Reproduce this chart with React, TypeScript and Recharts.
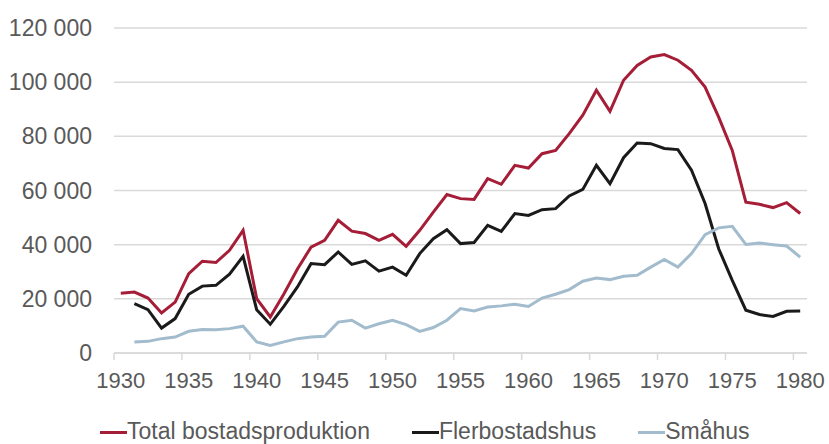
import { CartesianGrid, Legend, Line, LineChart, XAxis, YAxis } from "recharts";

const years = Array.from({ length: 51 }, (_, i) => 1930 + i);

// Total bostadsproduktion (1930-1980)
const total = [
  22100, 22500, 20300, 14800, 18800, 29300, 33900, 33400, 37900, 45300,
  20100, 13300, 21800, 31000, 39100, 41600, 49000, 45000, 44100, 41600,
  43800, 39400, 45300, 52000, 58500, 57000, 56700, 64400, 62300, 69300,
  68300, 73600, 74800, 81000, 87800, 97000, 89200, 100700, 106200, 109300,
  110200, 108100, 104400, 98200, 87100, 74800, 55700, 54900, 53700, 55500,
  51500,
];

// Flerbostadshus (from 1931)
const fler = [
  null, 18200, 16000, 9200, 12700, 21700, 24700, 25000, 29100, 35700,
  16000, 10600, 17200, 24400, 33000, 32600, 37300, 32700, 34000, 30200,
  31700, 28700, 36700, 42200, 45500, 40400, 40800, 47100, 44900, 51500,
  50800, 52900, 53300, 58000, 60400, 69300, 62500, 72100, 77500, 77300,
  75500, 75100, 67500, 55200, 38500, 26800, 15800, 14200, 13500, 15400,
  15500,
];

// Småhus (from 1931)
const smahus = [
  null, 4100, 4300, 5300, 5900, 8000, 8700, 8600, 9000, 9900,
  4100, 2800, 4100, 5300, 5900, 6200, 11400, 12100, 9200, 10800,
  12100, 10500, 8000, 9400, 12100, 16400, 15500, 17000, 17400, 18000,
  17200, 20300, 21700, 23400, 26500, 27700, 27100, 28300, 28700, 31700,
  34500, 31700, 36700, 43700, 46200, 46800, 40100, 40600, 40000, 39500,
  35400,
];

const yearTicks = [1930, 1935, 1940, 1945, 1950, 1955, 1960, 1965, 1970, 1975, 1980];
const valueTicks = [0, 20000, 40000, 60000, 80000, 100000, 120000];

const series = [
  { key: "total", name: "Total bostadsproduktion", color: "#a51d36" },
  { key: "fler", name: "Flerbostadshus", color: "#1a1a1a" },
  { key: "smahus", name: "Småhus", color: "#a3bccd" },
];

const data = years.map((year, i) => ({
  year,
  total: total[i],
  fler: fler[i],
  smahus: smahus[i],
}));

const W = 829;
const H = 444;
const Y_W = 114;
const RIGHT = 22;
const HALF_BAND = (W - Y_W - RIGHT) / years.length / 2;
const TICK_MARGIN = 19;
const TEXT = "#595959";
const GRID = "#d9d9d9";
const FONT = "'Liberation Sans', Arial, sans-serif";

const fmt = (v: number) => String(v).replace(/\B(?=(\d{3})+(?!\d))/g, " ");

function YearTick(props: any) {
  const { x, y, payload } = props;
  const axisY = y - TICK_MARGIN;
  return (
    <g>
      <line x1={x - HALF_BAND} x2={x - HALF_BAND} y1={axisY} y2={axisY + 7} stroke={GRID} strokeWidth={1.5} />
      <text x={x} y={y} dy="0.71em" textAnchor="middle" fill={TEXT} fontSize={22} fontFamily={FONT}>
        {payload.value}
      </text>
    </g>
  );
}

function LegendContent() {
  return (
    <div style={{ display: "flex", alignItems: "center", gap: 42, paddingLeft: 100, height: 26, fontFamily: FONT, fontSize: 23, color: TEXT }}>
      {series.map((s) => (
        <div key={s.key} style={{ display: "flex", alignItems: "center" }}>
          <span style={{ display: "inline-block", width: 27, height: 3, background: s.color, marginTop: 3 }} />
          <span>{s.name}</span>
        </div>
      ))}
    </div>
  );
}

export default function App() {
  return (
    <div style={{ position: "absolute", left: 0, top: 0, width: W, height: H, background: "#fff" }}>
      <LineChart width={W} height={H} data={data} margin={{ top: 28, right: RIGHT, bottom: 0, left: 0 }}>
        <CartesianGrid vertical={false} stroke={GRID} strokeWidth={1.5} />
        <XAxis
          dataKey="year"
          type="number"
          domain={[1929.5, 1980.5]}
          ticks={yearTicks}
          height={65}
          tickLine={false}
          tickSize={0}
          tickMargin={TICK_MARGIN}
          axisLine={{ stroke: GRID, strokeWidth: 1.5 }}
          tick={<YearTick />}
          interval={0}
        />
        <YAxis
          width={Y_W}
          domain={[0, 120000]}
          ticks={valueTicks}
          tickFormatter={fmt}
          axisLine={false}
          tickLine={false}
          tickSize={0}
          tickMargin={22}
          tick={{ fill: TEXT, fontSize: 23, fontFamily: FONT }}
        />
        {series.map((s) => (
          <Line
            key={s.key}
            type="linear"
            dataKey={s.key}
            name={s.name}
            stroke={s.color}
            strokeWidth={3}
            dot={false}
            isAnimationActive={false}
          />
        ))}
        <Legend verticalAlign="bottom" height={26} wrapperStyle={{ left: 0, width: W, height: 26 }} content={<LegendContent />} />
      </LineChart>
    </div>
  );
}
